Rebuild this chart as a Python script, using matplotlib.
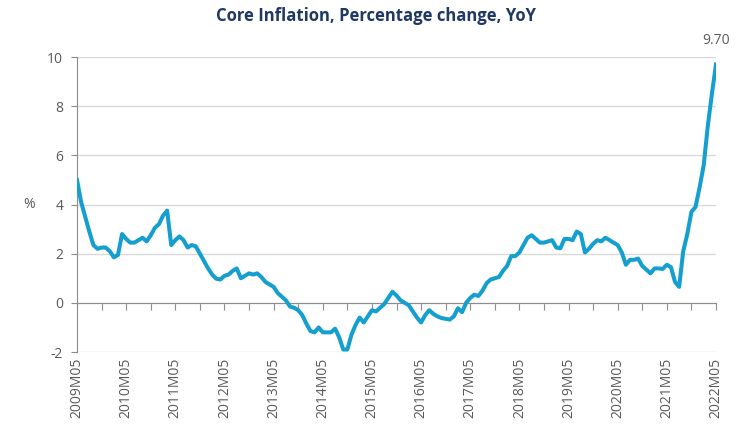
import numpy as np
import matplotlib
matplotlib.use("Agg")
import matplotlib.pyplot as plt
import matplotlib.transforms as mtransforms

plt.rcParams['font.family'] = ['Open Sans', 'DejaVu Sans']

# monthly core inflation, YoY %, 2009M05 .. 2022M05
values = [
    5.0, 4.1, 3.5, 2.9, 2.35, 2.2, 2.25, 2.25, 2.1, 1.85, 1.95, 2.8,
    2.6, 2.45, 2.45, 2.55, 2.65, 2.5, 2.75, 3.05, 3.2, 3.55, 3.75, 2.35,
    2.55, 2.7, 2.55, 2.25, 2.35, 2.3, 2.0, 1.7, 1.4, 1.15, 0.98, 0.95,
    1.1, 1.15, 1.3, 1.4, 1.0, 1.1, 1.2, 1.15, 1.2, 1.05, 0.85, 0.75,
    0.65, 0.4, 0.25, 0.1, -0.15, -0.2, -0.3, -0.5, -0.85, -1.15, -1.2, -1.0,
    -1.2, -1.2, -1.2, -1.05, -1.4, -1.9, -1.9, -1.3, -0.9, -0.6, -0.8, -0.55,
    -0.3, -0.35, -0.2, -0.05, 0.2, 0.45, 0.3, 0.1, 0.0, -0.1, -0.35, -0.6,
    -0.8, -0.5, -0.3, -0.45, -0.55, -0.62, -0.65, -0.68, -0.55, -0.22, -0.38, 0.0,
    0.2, 0.33, 0.28, 0.5, 0.8, 0.95, 1.0, 1.05, 1.3, 1.5, 1.9, 1.9,
    2.05, 2.35, 2.65, 2.75, 2.6, 2.45, 2.45, 2.5, 2.55, 2.25, 2.22, 2.6,
    2.6, 2.55, 2.9, 2.8, 2.05, 2.2, 2.4, 2.55, 2.5, 2.65, 2.55, 2.45,
    2.35, 2.05, 1.55, 1.75, 1.75, 1.8, 1.5, 1.35, 1.2, 1.4, 1.4, 1.38,
    1.55, 1.45, 0.85, 0.65, 2.1, 2.8, 3.7, 3.9, 4.7, 5.6, 7.2, 8.5,
    9.7,
]
years = list(range(2009, 2023))
tick_labels = [f"{y}M05" for y in years]
yticks = [-2, 0, 2, 4, 6, 8, 10]

x = np.arange(len(values))
txt = '#595959'

fig = plt.figure(figsize=(7.37, 4.41), dpi=100)
ax = fig.add_axes([0.1045, 0.2018, 0.867, 0.6689])

ax.plot(x, values, color='#149FCF', lw=2.9, solid_joinstyle='round', zorder=3)

ax.set_xlim(0, len(values) - 1)
ax.set_ylim(-2, 10)
ax.set_yticks(yticks)
ax.set_yticklabels([str(v) for v in yticks], color=txt, fontsize=10)
ax.grid(axis='y', color='#D9D9D9', lw=1)
ax.set_axisbelow(True)

for s in ['top', 'right']:
    ax.spines[s].set_visible(False)
ax.spines['left'].set_color('#8C8C8C')
ax.spines['bottom'].set_color('#8C8C8C')
ax.spines['bottom'].set_position(('data', 0))
ax.set_xticks(np.arange(0, len(values), 6))
ax.set_xticklabels([])
ax.tick_params(axis='x', direction='out', length=5, color='#8C8C8C')
ax.tick_params(axis='y', direction='out', length=4, color='#8C8C8C', pad=6)

trans = mtransforms.blended_transform_factory(ax.transData, ax.transAxes)
for i, lab in enumerate(tick_labels):
    ax.text(i * 12, -0.02, lab, transform=trans, rotation=90, ha='center',
            va='top', color=txt, fontsize=10)

ax.text(-0.075, 0.5, '%', transform=ax.transAxes, ha='center', va='center',
        color=txt, fontsize=10)
ax.annotate(f"{values[-1]:.2f}", (x[-1], values[-1]), xytext=(0, 12),
            textcoords='offset points', ha='center', va='bottom', color=txt,
            fontsize=10)

fig.suptitle('Core Inflation, Percentage change, YoY', x=0.51, y=0.985,
             fontsize=12, fontweight='bold', color='#1F3864')

fig.savefig('out.png', dpi=100)
